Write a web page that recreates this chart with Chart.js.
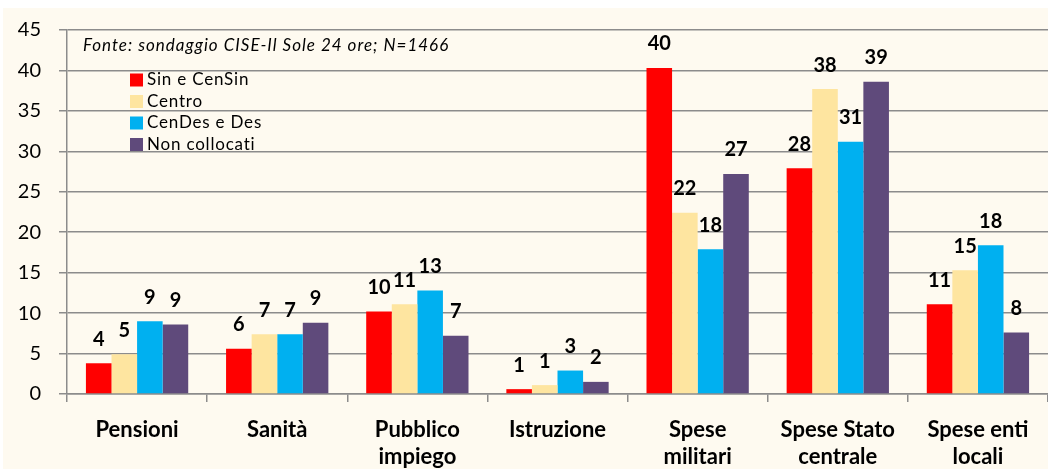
<!DOCTYPE html>
<html>
<head>
<meta charset="utf-8">
<script src="https://cdn.jsdelivr.net/npm/chart.js@4.4.0/dist/chart.umd.min.js"></script>
<style>
  html, body { margin: 0; padding: 0; background: #ffffff; }
  #wrap { position: absolute; left: 0; top: 0; width: 1048px; height: 469px; }
</style>
</head>
<body>
<div id="wrap"><canvas id="chart" width="1048" height="469"></canvas></div>
<script>
const FONT = 'Lato, "Open Sans", sans-serif';

const categories = [
    'Pensioni',
    'Sanità',
    ['Pubblico', 'impiego'],
    'Istruzione',
    ['Spese', 'militari'],
    ['Spese Stato', 'centrale'],
    ['Spese enti', 'locali']
];

const seriesNames = ['Sin e CenSin', 'Centro', 'CenDes e Des', 'Non collocati'];
const seriesColors = ['#ff0000', '#fee5a0', '#00b0f0', '#5f4a7b'];

const sinCenSin    = [3.8, 5.6, 10.2, 0.6, 40.3, 27.9, 11.1];
const centro       = [4.9, 7.4, 11.1, 1.1, 22.4, 37.7, 15.3];
const cenDesDes    = [9.0, 7.4, 12.8, 2.9, 17.9, 31.2, 18.4];
const nonCollocati = [8.6, 8.8, 7.2, 1.5, 27.2, 38.6, 7.6];

const yTicks = [0, 5, 10, 15, 20, 25, 30, 35, 40, 45];
const sourceNote = 'Fonte: sondaggio CISE-Il Sole 24 ore; N=1466';

const allSeries = [sinCenSin, centro, cenDesDes, nonCollocati];

// cream background
const backgroundPlugin = {
    id: 'cream',
    beforeDraw(chart) {
        const ctx = chart.ctx;
        ctx.save();
        ctx.fillStyle = '#fefaf0';
        ctx.fillRect(3, 8, chart.width - 3, chart.height - 8);
        ctx.restore();
    }
};

// value labels above the bars
const valueLabels = {
    id: 'valueLabels',
    afterDatasetsDraw(chart) {
        const ctx = chart.ctx;
        ctx.save();
        ctx.font = 'bold 20px ' + FONT;
        ctx.fillStyle = '#000';
        ctx.textAlign = 'center';
        ctx.textBaseline = 'middle';
        chart.data.datasets.forEach((ds, i) => {
            chart.getDatasetMeta(i).data.forEach((bar, j) => {
                ctx.fillText(Math.round(ds.data[j]), bar.x, bar.y - 24);
            });
        });
        ctx.restore();
    }
};

// legend and note inside the plot
const innerLegend = {
    id: 'innerLegend',
    afterDraw(chart) {
        const ctx = chart.ctx;
        ctx.save();
        ctx.fillStyle = '#000';
        ctx.textBaseline = 'middle';
        ctx.letterSpacing = '1px';
        ctx.font = 'italic 17px ' + FONT;
        ctx.fillText(sourceNote, 83, 46);
        ctx.letterSpacing = '0.8px';
        ctx.font = '17px ' + FONT;
        chart.data.datasets.forEach((ds, i) => {
            const y = 80 + i * 21.5;
            ctx.fillStyle = ds.backgroundColor;
            ctx.fillRect(130, y - 6.5, 13, 13);
            ctx.fillStyle = '#000';
            ctx.fillText(ds.label, 147, y);
        });
        ctx.restore();
    }
};

const datasets = seriesNames.map((name, i) => ({
    label: name,
    data: allSeries[i],
    backgroundColor: seriesColors[i],
    borderWidth: 0,
    categoryPercentage: 0.73,
    barPercentage: 1.0
}));

new Chart(document.getElementById('chart'), {
    type: 'bar',
    data: { labels: categories, datasets: datasets },
    plugins: [backgroundPlugin, valueLabels, innerLegend],
    options: {
        responsive: false,
        animation: false,
        layout: { padding: { top: 27, right: 0, left: 0, bottom: 0 } },
        plugins: {
            legend: { display: false },
            tooltip: { enabled: false }
        },
        scales: {
            x: {
                afterFit(scale) { scale.height = 75; },
                grid: {
                    offset: true,
                    drawOnChartArea: false,
                    drawTicks: true,
                    tickLength: 8,
                    color: '#8c8c8c',
                    lineWidth: 1.5
                },
                border: { color: '#8c8c8c', width: 1.5 },
                ticks: {
                    color: '#000',
                    padding: 14,
                    font: { family: FONT, size: 22, weight: 'bold', lineHeight: 1.23 }
                }
            },
            y: {
                min: 0,
                max: 45,
                afterFit(scale) { scale.width = 67; },
                afterBuildTicks(scale) { scale.ticks = yTicks.map(v => ({ value: v })); },
                grid: {
                    color: '#8c8c8c',
                    lineWidth: 1.5,
                    tickLength: 8
                },
                border: { color: '#8c8c8c', width: 1.5 },
                ticks: {
                    color: '#000',
                    padding: 18,
                    font: { family: FONT, size: 20 }
                }
            }
        }
    }
});
</script>
</body>
</html>
